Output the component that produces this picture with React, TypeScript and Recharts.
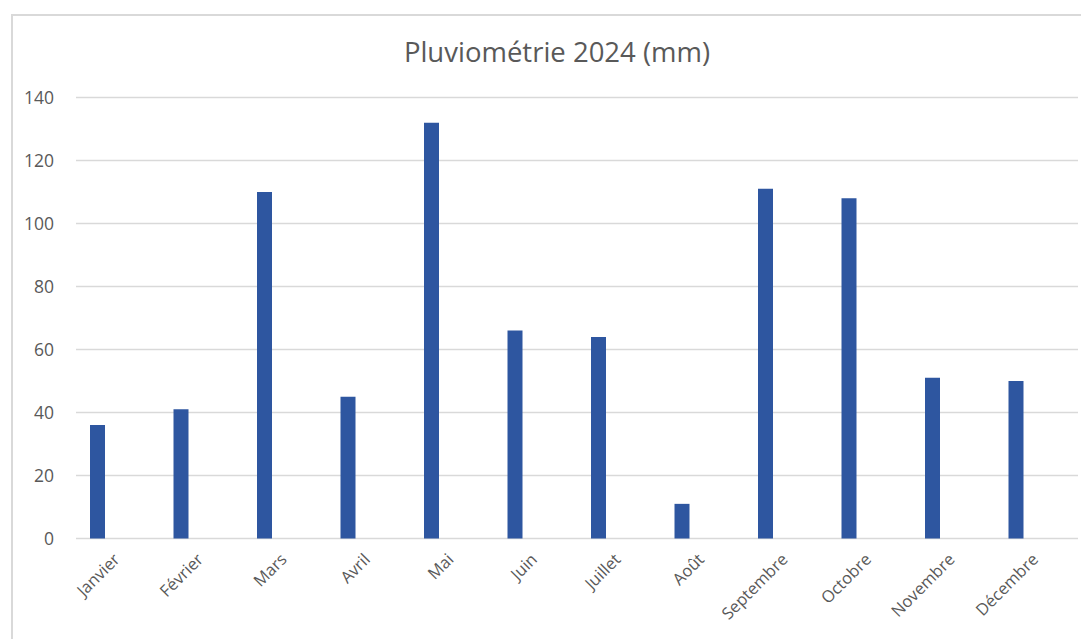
import React from "react";
import { BarChart, Bar, XAxis, YAxis, CartesianGrid } from "recharts";

const months = ["Janvier", "Février", "Mars", "Avril", "Mai", "Juin", "Juillet", "Août", "Septembre", "Octobre", "Novembre", "Décembre"];
const rainfall = [36, 41, 110, 45, 132, 66, 64, 11, 111, 108, 51, 50];
const yTicks = [0, 20, 40, 60, 80, 100, 120, 140];
const title = "Pluviométrie 2024 (mm)";

const data = months.map((m, i) => ({ mois: m, pluie: rainfall[i] }));

const FONT = "'Open Sans', 'Noto Sans', sans-serif";
const TEXT = "#595959";

const XTick = (props: any) => {
  const { x, y, payload } = props;
  return (
    <g transform={`translate(${x + 3},${y + 14})`}>
      <text
        x={0}
        y={0}
        transform="rotate(-45)"
        textAnchor="end"
        fill={TEXT}
        fontSize={16.5}
        fontFamily={FONT}
      >
        {payload.value}
      </text>
    </g>
  );
};

export default function App() {
  return (
    <div style={{ position: "relative", width: 1081, height: 631, overflow: "hidden", background: "#fff" }}>
      <div
        style={{
          position: "absolute",
          left: 3,
          top: 6,
          width: 1200,
          height: 800,
          border: "2px solid #d9d9d9",
          boxSizing: "border-box",
        }}
      />
      <div
        style={{
          position: "absolute",
          left: 549 - 300,
          width: 600,
          top: 28,
          textAlign: "center",
          fontFamily: FONT,
          fontSize: 27.5,
          color: TEXT,
          lineHeight: "32px",
        }}
      >
        {title}
      </div>
      <div style={{ position: "absolute", left: 0, top: 0 }}>
        <BarChart
          width={1081}
          height={631}
          data={data}
          margin={{ top: 89.5, right: 11, bottom: 20, left: 8 }}
          barGap={25}
        >
          <CartesianGrid vertical={false} stroke="#d9d9d9" strokeWidth={1.5} />
          <XAxis
            dataKey="mois"
            axisLine={false}
            tickLine={false}
            interval={0}
            height={80.5}
            tick={<XTick />}
          />
          <YAxis
            domain={[0, 140]}
            ticks={yTicks}
            axisLine={false}
            tickLine={false}
            tickSize={0}
            tickMargin={22}
            width={60}
            tick={{ fill: TEXT, fontSize: 17.5, fontFamily: FONT }}
            interval={0}
          />
          <Bar dataKey="pluie" fill="#2E56A0" barSize={15} isAnimationActive={false} />
          <Bar dataKey="vide" fill="#2E56A0" barSize={15} isAnimationActive={false} />
        </BarChart>
      </div>
    </div>
  );
}
